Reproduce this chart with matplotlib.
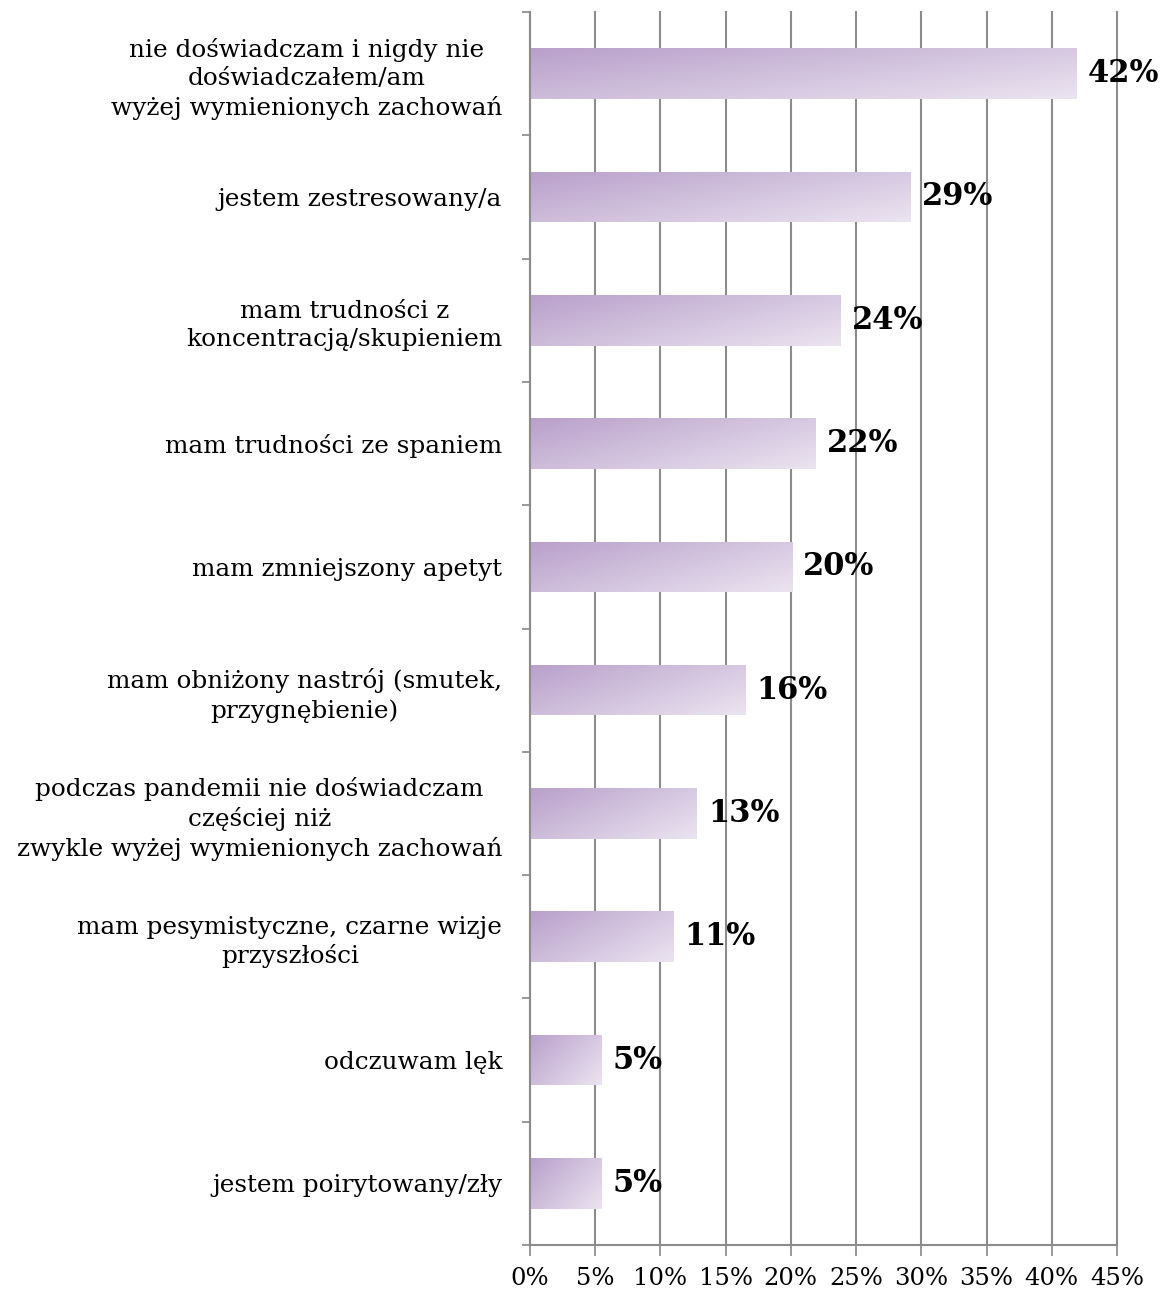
import numpy as np
import matplotlib
matplotlib.use("Agg")
import matplotlib.pyplot as plt
from matplotlib.colors import LinearSegmentedColormap
from matplotlib.patches import Rectangle

categories = [
    "nie doświadczam i nigdy nie\ndoświadczałem/am\nwyżej wymienionych zachowań",
    "jestem zestresowany/a",
    "mam trudności z\nkoncentracją/skupieniem",
    "mam trudności ze spaniem",
    "mam zmniejszony apetyt",
    "mam obniżony nastrój (smutek,\nprzygnębienie)",
    "podczas pandemii nie doświadczam\nczęściej niż\nzwykle wyżej wymienionych zachowań",
    "mam pesymistyczne, czarne wizje\nprzyszłości",
    "odczuwam lęk",
    "jestem poirytowany/zły",
]
values = [41.9, 29.2, 23.8, 21.9, 20.1, 16.5, 12.8, 11.0, 5.5, 5.5]
labels = ["42%", "29%", "24%", "22%", "20%", "16%", "13%", "11%", "5%", "5%"]
xticks = [0, 5, 10, 15, 20, 25, 30, 35, 40, 45]

plt.rcParams['font.family'] = ['DejaVu Serif']

fig = plt.figure(figsize=(11.64, 12.95), dpi=100)
ax = fig.add_axes([0.4553, 0.0386, 0.5043, 0.9521])

n = len(categories)
ypos = np.arange(n)
bar_h = 0.41

cmap = LinearSegmentedColormap.from_list("lav", ["#b9a0cb", "#ebe4f0"])
gx, gy = np.meshgrid(np.linspace(0, 1, 200), np.linspace(0, 1, 40))

for y, v, lab in zip(ypos, values, labels):
    rect = Rectangle((0, y - bar_h / 2), v, bar_h, facecolor="none", edgecolor="none")
    ax.add_patch(rect)
    grad = 0.6 * gx + 0.4 * gy
    im = ax.imshow(grad, cmap=cmap, extent=(0, v, y + bar_h / 2, y - bar_h / 2),
                   aspect="auto", zorder=2, interpolation="bilinear")
    im.set_clip_path(rect)
    ax.text(v + 0.85, y, lab, va="center", ha="left", fontsize=22,
            fontweight="bold", zorder=3)

ax.set_xlim(0, 45)
ax.set_ylim(n - 0.5, -0.5)
ax.set_xticks(xticks)
ax.set_xticklabels([f"{t}%" for t in xticks], fontsize=17.5)
ax.set_yticks(ypos)
ax.set_yticklabels(categories, fontsize=17.8, ha="right", multialignment="center",
                   linespacing=1.3)
ax.tick_params(axis="y", length=0, pad=20)
ax.set_yticks(np.arange(-0.5, n, 1), minor=True)
ax.tick_params(axis="y", which="minor", length=6, color="#888888", width=1.2)
ax.tick_params(axis="x", length=8, color="#888888", width=1.2, pad=8)

ax.grid(axis="x", color="#8c8c8c", linewidth=1.5, zorder=0)
for gl in ax.get_xgridlines():
    gl.set_clip_on(False)
ax.set_axisbelow(True)
for s in ["top", "right"]:
    ax.spines[s].set_visible(False)
for s in ["left", "bottom"]:
    ax.spines[s].set_color("#8c8c8c")
    ax.spines[s].set_linewidth(1.5)

fig.savefig("out.png", dpi=100)
